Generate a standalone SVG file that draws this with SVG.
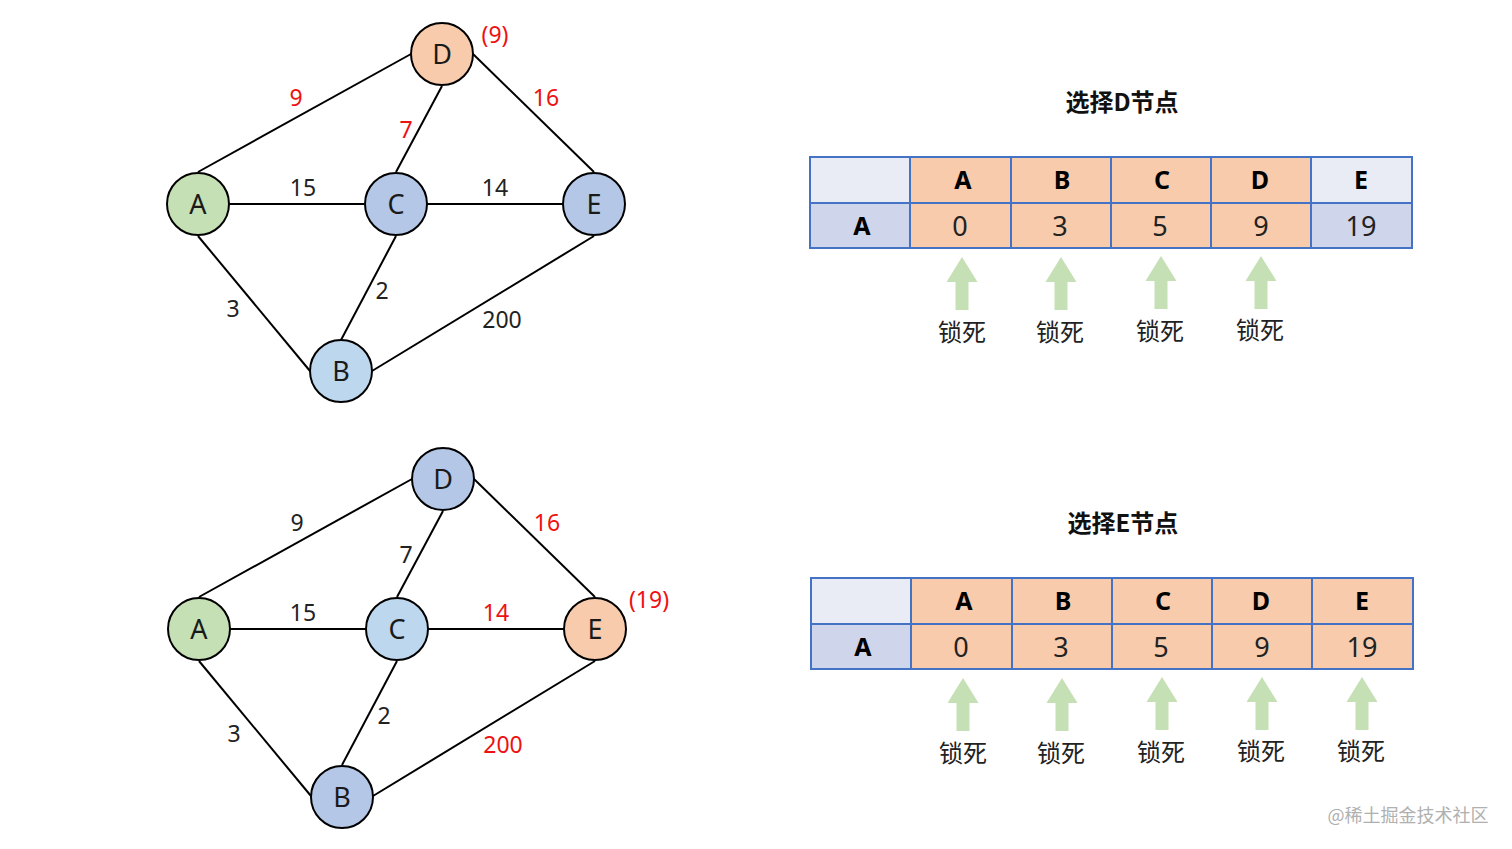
<svg xmlns="http://www.w3.org/2000/svg" width="1512" height="849" viewBox="0 0 1512 849">
<style>
  text { font-family: "Noto Sans", "Noto Sans CJK SC", sans-serif; text-anchor: middle; dominant-baseline: central; }
  .node circle { stroke: #000; stroke-width: 2; }
  .nl { font-size: 27px; fill: #1a1a1a; }
  .edges line { stroke: #000; stroke-width: 2; }
  .w { font-size: 23px; fill: #222; }
  .r { fill: #ee1111; }
  .cell { stroke: #4472C4; stroke-width: 2; }
  .hd { font-size: 25px; font-weight: bold; fill: #000; }
  .dv { font-size: 27px; fill: #222; }
  .title { font-size: 24px; font-weight: bold; fill: #111; font-family: "Noto Sans CJK SC", sans-serif; }
  .lock { font-size: 24px; fill: #222; font-family: "Noto Sans CJK SC", sans-serif; }
  .arrow { fill: #C5E0B4; }
  .or { fill: #F8CBAD; }
  .gr { fill: #C5E0B4; }
  .bl { fill: #B4C7E7; }
  .lb { fill: #BDD7EE; }
  .lav { fill: #E9EBF5; }
  .lav2 { fill: #CFD5EA; }
</style>
<defs>
  <path id="up" d="M0,0 L15.5,25 L6.5,25 L6.5,53 L-6.5,53 L-6.5,25 L-15.5,25 Z"/>
</defs>
<rect width="1512" height="849" fill="#fff"/>

<!-- Top graph -->
<g id="edges-top" class="edges">
  <line x1="198" y1="172" x2="411" y2="54"/>
  <line x1="442" y1="86" x2="396" y2="172"/>
  <line x1="473" y1="54" x2="594" y2="172"/>
  <line x1="229" y1="204" x2="364" y2="204"/>
  <line x1="427" y1="204" x2="563" y2="204"/>
  <line x1="198" y1="236" x2="310" y2="371"/>
  <line x1="396" y1="236" x2="341" y2="340"/>
  <line x1="372" y1="371" x2="594" y2="236"/>
</g>
<g id="labels-top">
  <text class="w r" x="296" y="97">9</text>
  <text class="w r" x="546" y="97">16</text>
  <text class="w r" x="406" y="129">7</text>
  <text class="w r" x="495" y="34">(9)</text>
  <text class="w" x="303" y="187">15</text>
  <text class="w" x="495" y="187">14</text>
  <text class="w" x="382" y="290">2</text>
  <text class="w" x="233" y="308">3</text>
  <text class="w" x="502" y="319">200</text>
</g>
<g id="top-D" class="node"><circle class="or" cx="442" cy="54" r="31"/><text class="nl" x="442" y="53">D</text></g>
<g id="top-A" class="node"><circle class="gr" cx="198" cy="204" r="31"/><text class="nl" x="198" y="203">A</text></g>
<g id="top-C" class="node"><circle class="bl" cx="396" cy="204" r="31"/><text class="nl" x="396" y="203">C</text></g>
<g id="top-E" class="node"><circle class="bl" cx="594" cy="204" r="31"/><text class="nl" x="594" y="203">E</text></g>
<g id="top-B" class="node"><circle class="lb" cx="341" cy="371" r="31"/><text class="nl" x="341" y="370">B</text></g>

<!-- Bottom graph -->
<g id="edges-bottom" class="edges">
  <line x1="199" y1="597" x2="412" y2="479"/>
  <line x1="443" y1="511" x2="397" y2="597"/>
  <line x1="474" y1="479" x2="595" y2="597"/>
  <line x1="230" y1="629" x2="366" y2="629"/>
  <line x1="428" y1="629" x2="564" y2="629"/>
  <line x1="199" y1="661" x2="311" y2="796"/>
  <line x1="397" y1="661" x2="342" y2="765"/>
  <line x1="373" y1="796" x2="595" y2="661"/>
</g>
<g id="labels-bottom">
  <text class="w" x="297" y="522">9</text>
  <text class="w r" x="547" y="522">16</text>
  <text class="w" x="406" y="554">7</text>
  <text class="w" x="303" y="612">15</text>
  <text class="w r" x="496" y="612">14</text>
  <text class="w r" x="649" y="599">(19)</text>
  <text class="w" x="384" y="715">2</text>
  <text class="w" x="234" y="733">3</text>
  <text class="w r" x="503" y="744">200</text>
</g>
<g id="bot-D" class="node"><circle class="bl" cx="443" cy="479" r="31"/><text class="nl" x="443" y="478">D</text></g>
<g id="bot-A" class="node"><circle class="gr" cx="199" cy="629" r="31"/><text class="nl" x="199" y="628">A</text></g>
<g id="bot-C" class="node"><circle class="lb" cx="397" cy="629" r="31"/><text class="nl" x="397" y="628">C</text></g>
<g id="bot-E" class="node"><circle class="or" cx="595" cy="629" r="31"/><text class="nl" x="595" y="628">E</text></g>
<g id="bot-B" class="node"><circle class="bl" cx="342" cy="797" r="31"/><text class="nl" x="342" y="796">B</text></g>

<!-- Top table -->
<g id="table-top">
  <text class="title" x="1122" y="100">选择D节点</text>
  <rect class="cell lav" x="810" y="157" width="100" height="46"/>
  <rect class="cell or" x="910" y="157" width="101" height="46"/>
  <rect class="cell or" x="1011" y="157" width="100" height="46"/>
  <rect class="cell or" x="1111" y="157" width="100" height="46"/>
  <rect class="cell or" x="1211" y="157" width="100" height="46"/>
  <rect class="cell lav" x="1311" y="157" width="101" height="46"/>
  <rect class="cell lav2" x="810" y="203" width="100" height="45"/>
  <rect class="cell or" x="910" y="203" width="101" height="45"/>
  <rect class="cell or" x="1011" y="203" width="100" height="45"/>
  <rect class="cell or" x="1111" y="203" width="100" height="45"/>
  <rect class="cell or" x="1211" y="203" width="100" height="45"/>
  <rect class="cell lav2" x="1311" y="203" width="101" height="45"/>
  <text class="hd" x="963" y="179">A</text>
  <text class="hd" x="1062" y="179">B</text>
  <text class="hd" x="1162" y="179">C</text>
  <text class="hd" x="1260" y="179">D</text>
  <text class="hd" x="1361" y="179">E</text>
  <text class="hd" x="862" y="225">A</text>
  <text class="dv" x="960" y="225">0</text>
  <text class="dv" x="1060" y="225">3</text>
  <text class="dv" x="1160" y="225">5</text>
  <text class="dv" x="1261" y="225">9</text>
  <text class="dv" x="1361" y="225">19</text>
  <use href="#up" class="arrow" x="962" y="257"/>
  <use href="#up" class="arrow" x="1061" y="257"/>
  <use href="#up" class="arrow" x="1161" y="256"/>
  <use href="#up" class="arrow" x="1261" y="256"/>
  <text class="lock" x="962" y="330">锁死</text>
  <text class="lock" x="1060" y="330">锁死</text>
  <text class="lock" x="1160" y="329">锁死</text>
  <text class="lock" x="1260" y="328">锁死</text>
</g>

<!-- Bottom table -->
<g id="table-bottom">
  <text class="title" x="1123" y="521">选择E节点</text>
  <rect class="cell lav" x="811" y="578" width="100" height="46"/>
  <rect class="cell or" x="911" y="578" width="101" height="46"/>
  <rect class="cell or" x="1012" y="578" width="100" height="46"/>
  <rect class="cell or" x="1112" y="578" width="100" height="46"/>
  <rect class="cell or" x="1212" y="578" width="100" height="46"/>
  <rect class="cell or" x="1312" y="578" width="101" height="46"/>
  <rect class="cell lav2" x="811" y="624" width="100" height="45"/>
  <rect class="cell or" x="911" y="624" width="101" height="45"/>
  <rect class="cell or" x="1012" y="624" width="100" height="45"/>
  <rect class="cell or" x="1112" y="624" width="100" height="45"/>
  <rect class="cell or" x="1212" y="624" width="100" height="45"/>
  <rect class="cell or" x="1312" y="624" width="101" height="45"/>
  <text class="hd" x="964" y="600">A</text>
  <text class="hd" x="1063" y="600">B</text>
  <text class="hd" x="1163" y="600">C</text>
  <text class="hd" x="1261" y="600">D</text>
  <text class="hd" x="1362" y="600">E</text>
  <text class="hd" x="863" y="646">A</text>
  <text class="dv" x="961" y="646">0</text>
  <text class="dv" x="1061" y="646">3</text>
  <text class="dv" x="1161" y="646">5</text>
  <text class="dv" x="1262" y="646">9</text>
  <text class="dv" x="1362" y="646">19</text>
  <use href="#up" class="arrow" x="963" y="678"/>
  <use href="#up" class="arrow" x="1062" y="678"/>
  <use href="#up" class="arrow" x="1162" y="677"/>
  <use href="#up" class="arrow" x="1262" y="677"/>
  <use href="#up" class="arrow" x="1362" y="677"/>
  <text class="lock" x="963" y="751">锁死</text>
  <text class="lock" x="1061" y="751">锁死</text>
  <text class="lock" x="1161" y="750">锁死</text>
  <text class="lock" x="1261" y="749">锁死</text>
  <text class="lock" x="1361" y="749">锁死</text>
</g>

<text x="1408" y="814" style="font-family:'Noto Sans CJK SC',sans-serif;font-size:18px;fill:#b0b0b0">@稀土掘金技术社区</text>
</svg>
